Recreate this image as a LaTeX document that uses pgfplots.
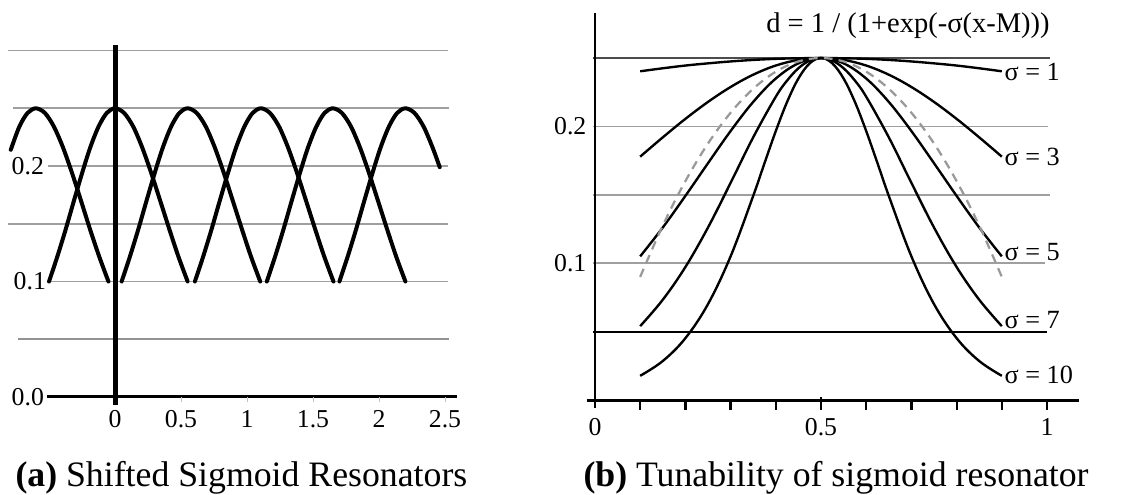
\documentclass[border=0pt]{standalone}
\usepackage{fontspec}
\setmainfont{Liberation Serif}
\usepackage{pgfplots}
\pgfplotsset{compat=1.18}
\newcommand\tl{\fontsize{10.3}{12}\selectfont}
\begin{document}
\begin{tikzpicture}[x=1pt,y=1pt]
\useasboundingbox (0,0) rectangle (453.2,198);
% ---------------- (a) ----------------
\begin{axis}[at={(2.72pt,34.6pt)}, anchor=south west, scale only axis,
  width=180.56pt, height=147.8pt,
  xmin=-0.82, xmax=2.60, ymin=-0.01, ymax=0.31,
  hide axis, clip=false,
  arch/.style={line width=1.6pt, black, no markers, smooth, tension=0.5, line join=round, line cap=round}]
% grid lines
\draw[gray!75, line width=0.7pt] (axis cs:-0.81,0.30) -- (axis cs:2.52,0.30);
\draw[gray!75, line width=0.7pt] (axis cs:-0.77,0.25) -- (axis cs:2.53,0.25);
\draw[gray!75, line width=0.7pt] (axis cs:-0.51,0.20) -- (axis cs:2.52,0.20);
\draw[gray!75, line width=0.7pt] (axis cs:-0.81,0.15) -- (axis cs:2.52,0.15);
\draw[gray!75, line width=0.7pt] (axis cs:-0.49,0.10) -- (axis cs:2.52,0.10);
\draw[gray!85, line width=0.8pt] (axis cs:-0.735,0.05) -- (axis cs:2.53,0.05);
% axes
\draw[black, line width=1.2pt] (axis cs:-0.515,0) -- (axis cs:2.59,0);
\draw[gray!50, line width=0.4pt] (axis cs:0.5,0) -- (axis cs:0.5,-0.004);
\draw[gray!50, line width=0.4pt] (axis cs:1,0) -- (axis cs:1,-0.004);
\draw[gray!50, line width=0.4pt] (axis cs:1.5,0) -- (axis cs:1.5,-0.004);
\draw[gray!50, line width=0.4pt] (axis cs:2,0) -- (axis cs:2,-0.004);
\draw[gray!50, line width=0.4pt] (axis cs:2.5,0) -- (axis cs:2.5,-0.004);
\draw[black, line width=2pt] (axis cs:0,-0.007) -- (axis cs:0,0.305);
% tick labels
\node[anchor=east, inner sep=0] at (axis cs:-0.535,0.0) {\tl 0.0};
\node[anchor=east, inner sep=0] at (axis cs:-0.52,0.1) {\tl 0.1};
\node[anchor=east, inner sep=0] at (axis cs:-0.535,0.2) {\tl 0.2};
\node[inner sep=0] at (axis cs:0,-0.019) {\tl 0};
\node[inner sep=0] at (axis cs:0.5,-0.019) {\tl 0.5};
\node[inner sep=0] at (axis cs:1,-0.019) {\tl 1};
\node[inner sep=0] at (axis cs:1.5,-0.019) {\tl 1.5};
\node[inner sep=0] at (axis cs:2,-0.019) {\tl 2};
\node[inner sep=0] at (axis cs:2.5,-0.019) {\tl 2.5};
% resonators
\addplot[arch] coordinates {(-0.79,0.214) (-0.725,0.2341) (-0.663,0.2459) (-0.6,0.25) (-0.531,0.2459) (-0.463,0.2341) (-0.394,0.216) (-0.325,0.1937) (-0.256,0.1693) (-0.188,0.1447) (-0.119,0.1213) (-0.05,0.1)};
\addplot[arch] coordinates {(-0.5,0.1) (-0.438,0.1213) (-0.375,0.1447) (-0.313,0.1693) (-0.25,0.1937) (-0.188,0.216) (-0.125,0.2341) (-0.063,0.2459) (0,0.25) (0.069,0.2459) (0.138,0.2341) (0.206,0.216) (0.275,0.1937) (0.344,0.1693) (0.413,0.1447) (0.481,0.1213) (0.55,0.1)};
\addplot[arch] coordinates {(0.05,0.1) (0.112,0.1213) (0.175,0.1447) (0.237,0.1693) (0.3,0.1937) (0.362,0.216) (0.425,0.2341) (0.487,0.2459) (0.55,0.25) (0.619,0.2459) (0.688,0.2341) (0.756,0.216) (0.825,0.1937) (0.894,0.1693) (0.963,0.1447) (1.031,0.1213) (1.1,0.1)};
\addplot[arch] coordinates {(0.605,0.1) (0.667,0.1213) (0.73,0.1447) (0.792,0.1693) (0.855,0.1937) (0.917,0.216) (0.98,0.2341) (1.042,0.2459) (1.105,0.25) (1.174,0.2459) (1.243,0.2341) (1.311,0.216) (1.38,0.1937) (1.449,0.1693) (1.518,0.1447) (1.586,0.1213) (1.655,0.1)};
\addplot[arch] coordinates {(1.15,0.1) (1.212,0.1213) (1.275,0.1447) (1.337,0.1693) (1.4,0.1937) (1.462,0.216) (1.525,0.2341) (1.587,0.2459) (1.65,0.25) (1.719,0.2459) (1.788,0.2341) (1.856,0.216) (1.925,0.1937) (1.994,0.1693) (2.063,0.1447) (2.131,0.1213) (2.2,0.1)};
\addplot[arch] coordinates {(1.7,0.1) (1.762,0.1213) (1.825,0.1447) (1.887,0.1693) (1.95,0.1937) (2.012,0.216) (2.075,0.2341) (2.137,0.2459) (2.2,0.25) (2.269,0.2459) (2.338,0.2341) (2.406,0.216) (2.46,0.199)};
\end{axis}
% ---------------- (b) ----------------
\begin{axis}[at={(232.56pt,32.52pt)}, anchor=south west, scale only axis,
  width=200.72pt, height=164.16pt,
  xmin=-0.03, xmax=1.08, ymin=-0.01, ymax=0.29,
  hide axis, clip=false,
  crv/.style={line width=0.95pt, black, no markers, smooth, tension=0.6, line join=round}]
% grid lines
\draw[black!70, line width=0.7pt] (axis cs:-0.005,0.25) -- (axis cs:1.007,0.25);
\draw[gray!75, line width=0.7pt] (axis cs:-0.005,0.20) -- (axis cs:1.002,0.20);
\draw[gray!75, line width=0.7pt] (axis cs:-0.005,0.15) -- (axis cs:1.007,0.15);
\draw[gray!75, line width=0.7pt] (axis cs:-0.005,0.10) -- (axis cs:0.996,0.10);
\draw[black, line width=0.8pt] (axis cs:-0.005,0.05) -- (axis cs:1.0,0.05);
% axes
\draw[black, line width=1.2pt] (axis cs:-0.018,0) -- (axis cs:1.07,0);
\draw[black, line width=1.1pt] (axis cs:0,-0.006) -- (axis cs:0,0.283);
\draw[black, line width=0.9pt] (axis cs:0.1,0) -- (axis cs:0.1,-0.0075);
\draw[black, line width=0.9pt] (axis cs:0.2,0) -- (axis cs:0.2,-0.0075);
\draw[black, line width=0.9pt] (axis cs:0.3,0) -- (axis cs:0.3,-0.0075);
\draw[black, line width=0.9pt] (axis cs:0.4,0) -- (axis cs:0.4,-0.0075);
\draw[black, line width=0.9pt] (axis cs:0.5,0.002) -- (axis cs:0.5,-0.0075);
\draw[black, line width=0.9pt] (axis cs:0.6,0) -- (axis cs:0.6,-0.0075);
\draw[black, line width=0.9pt] (axis cs:0.7,0) -- (axis cs:0.7,-0.0075);
\draw[black, line width=0.9pt] (axis cs:0.8,0) -- (axis cs:0.8,-0.0075);
\draw[black, line width=0.9pt] (axis cs:0.9,0) -- (axis cs:0.9,-0.0075);
\draw[black, line width=0.9pt] (axis cs:1.0,0) -- (axis cs:1.0,-0.0075);
% tick labels
\node[anchor=east, inner sep=0] at (axis cs:-0.018,0.1) {\tl 0.1};
\node[anchor=east, inner sep=0] at (axis cs:-0.018,0.2) {\tl 0.2};
\node[inner sep=0] at (axis cs:0,-0.0197) {\tl 0};
\node[inner sep=0] at (axis cs:0.5,-0.0197) {\tl 0.5};
\node[inner sep=0] at (axis cs:1,-0.0197) {\tl 1};
% curves
\addplot[crv] coordinates {(0.1,0.2403) (0.15,0.2425) (0.2,0.2445) (0.25,0.2461) (0.3,0.2475) (0.35,0.2486) (0.4,0.2494) (0.45,0.2498) (0.5,0.25) (0.55,0.2498) (0.6,0.2494) (0.65,0.2486) (0.7,0.2475) (0.75,0.2461) (0.8,0.2445) (0.85,0.2425) (0.9,0.2403)};
\addplot[crv] coordinates {(0.1,0.1779) (0.15,0.1920) (0.2,0.2055) (0.25,0.2179) (0.3,0.2288) (0.35,0.2378) (0.4,0.2445) (0.45,0.2486) (0.5,0.25) (0.55,0.2486) (0.6,0.2445) (0.65,0.2378) (0.7,0.2288) (0.75,0.2179) (0.8,0.2055) (0.85,0.1920) (0.9,0.1779)};
\addplot[crv] coordinates {(0.1,0.1050) (0.15,0.1261) (0.2,0.1492) (0.25,0.1731) (0.3,0.1966) (0.35,0.2179) (0.4,0.2350) (0.45,0.2461) (0.5,0.25) (0.55,0.2461) (0.6,0.2350) (0.65,0.2179) (0.7,0.1966) (0.75,0.1731) (0.8,0.1492) (0.85,0.1261) (0.9,0.1050)};
\addplot[crv] coordinates {(0.1,0.0540) (0.15,0.0733) (0.2,0.0972) (0.25,0.1261) (0.3,0.1587) (0.35,0.1920) (0.4,0.2217) (0.425,0.2335) (0.45,0.2425) (0.475,0.2481) (0.5,0.25) (0.525,0.2481) (0.55,0.2425) (0.575,0.2335) (0.6,0.2217) (0.65,0.1920) (0.7,0.1587) (0.75,0.1261) (0.8,0.0972) (0.85,0.0733) (0.9,0.0540)};
\addplot[crv] coordinates {(0.1,0.0177) (0.15,0.0285) (0.2,0.0452) (0.25,0.0701) (0.3,0.1050) (0.35,0.1492) (0.375,0.1731) (0.4,0.1966) (0.425,0.2179) (0.45,0.2350) (0.475,0.2461) (0.5,0.25) (0.525,0.2461) (0.55,0.2350) (0.575,0.2179) (0.6,0.1966) (0.625,0.1731) (0.65,0.1492) (0.7,0.1050) (0.75,0.0701) (0.8,0.0452) (0.85,0.0285) (0.9,0.0177)};
\addplot[crv, gray!80, dash pattern=on 3.5pt off 2.5pt, line width=0.9pt] coordinates {(0.1,0.09) (0.15,0.1275) (0.2,0.16) (0.25,0.1875) (0.3,0.21) (0.35,0.2275) (0.4,0.24) (0.45,0.2475) (0.5,0.25) (0.55,0.2475) (0.6,0.24) (0.65,0.2275) (0.7,0.21) (0.75,0.1875) (0.8,0.16) (0.85,0.1275) (0.9,0.09)};
% labels
\node[anchor=base east, inner sep=0] at (axis cs:1.007,0.269) {\fontsize{11.4}{13}\selectfont d = 1 / (1+exp(-σ(x-M)))};
\node[anchor=west, inner sep=0] at (axis cs:0.905,0.2398) {\fontsize{10.5}{12}\selectfont σ = 1};
\node[anchor=west, inner sep=0] at (axis cs:0.905,0.1776) {\fontsize{10.5}{12}\selectfont σ = 3};
\node[anchor=west, inner sep=0] at (axis cs:0.905,0.108) {\fontsize{10.5}{12}\selectfont σ = 5};
\node[anchor=west, inner sep=0] at (axis cs:0.905,0.0585) {\fontsize{10.5}{12}\selectfont σ = 7};
\node[anchor=west, inner sep=0] at (axis cs:0.905,0.0183) {\fontsize{10.5}{12}\selectfont σ = 10};
\end{axis}
% captions
\node[anchor=base west, inner sep=0] at (6,3.2) {\fontsize{14.3}{16}\selectfont\textbf{(a)} Shifted Sigmoid Resonators};
\node[anchor=base west, inner sep=0] at (233.2,3.2) {\fontsize{14.3}{16}\selectfont\textbf{(b)} Tunability of sigmoid resonator};
\end{tikzpicture}
\end{document}
